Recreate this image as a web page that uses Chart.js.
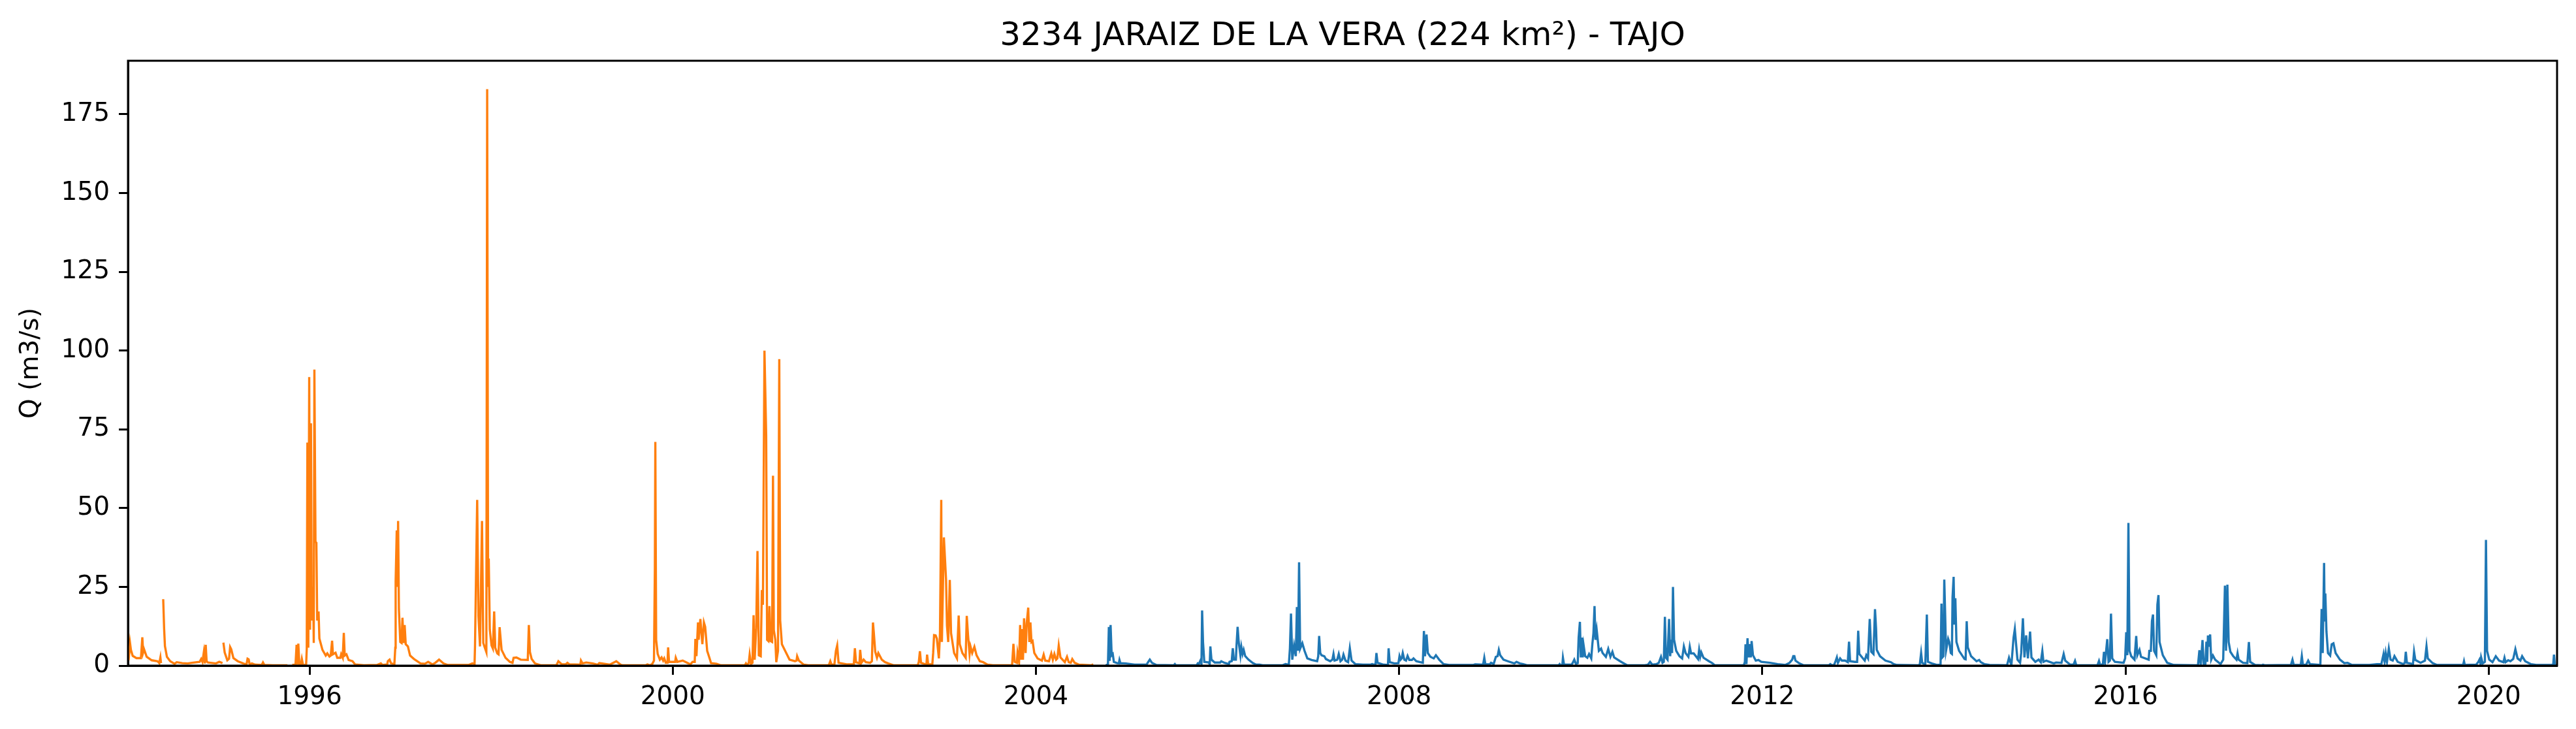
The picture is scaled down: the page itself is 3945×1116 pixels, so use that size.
<!DOCTYPE html>
<html>
<head>
<meta charset="utf-8">
<title>3234 JARAIZ DE LA VERA</title>
<script src="https://cdn.jsdelivr.net/npm/chart.js@4"></script>
<style>
  html, body { margin: 0; padding: 0; background: #fff; }
  canvas { display: block; }
</style>
</head>
<body>
<canvas id="flow-chart" width="3945" height="1116"></canvas>
<script>
const chartTitle = '3234 JARAIZ DE LA VERA (224 km²) - TAJO';
const yLabel = 'Q (m3/s)';
const yearTicks = [1996, 2000, 2004, 2008, 2012, 2016, 2020];
const qTicks = [0, 25, 50, 75, 100, 125, 150, 175];

// [decimal year, Q], null = hole in the record
const orangeFlow = [
  [1994.007,1.7],[1994.023,7.1],[1994.033,4.9],[1994.052,3.1],[1994.093,2.4],[1994.143,2.4],[1994.158,9],[1994.167,4.2],[1994.177,5.2],[1994.206,2.8],[1994.261,1.7],[1994.326,1.4],[1994.345,0.8],[1994.357,2.6],[1994.364,0.8],[1994.376,null],
  [1994.388,21.1],[1994.398,11.8],[1994.407,6.2],[1994.429,2.8],[1994.465,1.4],[1994.513,0.6],[1994.537,1.1],[1994.597,0.8],[1994.657,0.7],[1994.705,0.9],[1994.789,1.2],[1994.806,2.1],[1994.82,1.2],[1994.835,4.2],[1994.847,0.7],[1994.856,6.6],[1994.866,1.4],[1994.88,1],[1994.969,0.7],[1995.005,1.2],[1995.041,0.8],[1995.046,null],
  [1995.051,7.3],[1995.065,4.2],[1995.094,1.7],[1995.113,2.2],[1995.125,5.9],[1995.137,5.2],[1995.161,2.4],[1995.209,1.4],[1995.269,0.7],[1995.305,0.35],[1995.317,2.2],[1995.329,2],[1995.341,0.3],[1995.365,0.7],[1995.401,0.3],[1995.473,0.2],[1995.487,1],[1995.502,0.2],[1995.593,0.1],[1995.756,0.1],[1995.78,null],
  [1995.809,0.2],[1995.845,0.3],[1995.857,6.6],[1995.864,0.3],[1995.876,7],[1995.888,0.3],[1995.905,0.3],[1995.915,2.1],[1995.929,0.1],[1995.962,0.3],
  [1995.969,5.4],[1995.976,70.8],[1995.986,5.7],[1995.996,91.6],[1996.005,11.4],[1996.015,76.9],[1996.024,14.3],[1996.039,25],[1996.046,7.2],[1996.053,94],[1996.065,39.3],[1996.075,39],[1996.084,14.3],[1996.099,17.2],[1996.108,8.6],[1996.142,5],[1996.178,3.2],[1996.195,3.9],[1996.219,2.9],[1996.233,3.2],[1996.248,7.9],[1996.257,3.6],[1996.286,4.1],[1996.305,2.5],[1996.339,2.5],[1996.348,3.6],[1996.365,2.5],[1996.377,10.4],[1996.387,3.2],[1996.406,3.6],[1996.43,1.8],[1996.473,1.4],[1996.502,0.35],[1996.598,0.1],[1996.742,0.2],[1996.785,0.7],[1996.802,0.2],[1996.855,0.35],[1996.862,1.4],[1996.881,1.9],[1996.898,0.7],[1996.934,0.5],
  [1996.944,5.7],[1996.948,26.8],[1996.96,42.9],[1996.968,25],[1996.975,45.9],[1996.984,17.9],[1996.999,7.5],[1997.013,7.2],[1997.023,15.2],[1997.035,7.2],[1997.047,12.9],[1997.059,6.8],[1997.083,6.1],[1997.107,3.2],[1997.15,2.1],[1997.222,0.7],[1997.27,0.6],[1997.306,1.2],[1997.354,0.35],[1997.385,0.9],[1997.426,1.9],[1997.474,0.7],[1997.522,0.2],[1997.75,0.2],[1997.793,0.7],[1997.817,0.5],
  [1997.822,6.1],[1997.834,30],[1997.846,52.6],[1997.86,15.7],[1997.877,6.1],[1997.899,45.9],[1997.913,7.2],[1997.93,5.7],[1997.947,4.3],[1997.956,183],[1997.966,25],[1997.973,34],[1997.985,11.4],[1998.004,6.4],[1998.019,5.4],[1998.033,17.2],[1998.045,5.7],[1998.067,3.9],[1998.081,3.6],[1998.093,12.2],[1998.115,5],[1998.158,2.5],[1998.206,1.2],[1998.235,0.9],[1998.247,2.5],[1998.278,2.6],[1998.326,1.9],[1998.403,1.8],[1998.415,12.9],[1998.427,4.3],[1998.446,2.1],[1998.482,0.7],[1998.55,0.1],
  [1998.718,0.1],[1998.74,1.4],[1998.778,0.4],[1998.821,0.4],[1998.84,0.9],[1998.862,0.4],[1998.982,0.3],[1998.989,1.6],[1999.006,0.7],[1999.047,1],[1999.119,0.7],[1999.174,0.3],[1999.191,0.8],[1999.306,0.3],[1999.378,1.4],[1999.426,0.3],[1999.45,0.1],[1999.702,0.1],[1999.721,0.4],[1999.75,0.1],[1999.774,0.5],[1999.793,1.6],[1999.803,31],[1999.808,71],[1999.817,8.2],[1999.834,3.7],[1999.858,1.9],[1999.877,2.6],[1999.894,1.6],[1999.906,2.3],[1999.923,0.9],[1999.942,0.9],[1999.949,5.8],[1999.959,1.2],[2000.026,1.2],[2000.033,2.5],[2000.05,1.2],[2000.11,1.6],[2000.194,0.4],[2000.218,1.2],[2000.242,1.2],
  [2000.249,8.5],[2000.261,3],[2000.278,13.7],[2000.285,8.2],[2000.304,14.8],[2000.326,6.8],[2000.343,13.7],[2000.357,12.3],[2000.379,4.7],[2000.398,3],[2000.422,0.8],[2000.482,0.6],[2000.53,0.1],[2000.794,0.1],[2000.806,0.7],[2000.818,0.1],[2000.837,0.9],[2000.847,3.5],[2000.861,0.5],[2000.878,0.9],[2000.89,16],[2000.902,1.9],[2000.919,12],[2000.933,36.4],[2000.948,3.3],[2000.969,3],[2000.981,24],[2000.993,19.3],[2001.01,100],[2001.029,73],[2001.039,8.2],[2001.053,7.8],[2001.065,18.9],[2001.077,7.8],[2001.094,7.5],[2001.104,60.3],[2001.113,11.3],[2001.13,8.2],[2001.14,1.1],[2001.159,4.7],[2001.173,97.3],[2001.183,14.4],[2001.202,6.8],[2001.25,4],[2001.286,1.9],[2001.346,1.4],[2001.363,1.6],[2001.37,3],[2001.389,1.6],[2001.442,0.3],[2001.49,0.1],
  [2001.718,0.1],[2001.735,1.4],[2001.749,0.3],[2001.78,0.3],[2001.797,4.7],[2001.811,6.4],[2001.826,0.9],[2001.922,0.4],[2001.994,0.4],[2002.006,5.5],[2002.018,1.1],[2002.056,0.7],[2002.064,5],[2002.078,0.9],[2002.102,1.9],[2002.126,1.1],[2002.174,0.9],[2002.193,1.4],[2002.205,13.7],[2002.215,10.2],[2002.23,4.4],[2002.249,2.5],[2002.264,4],[2002.302,1.9],[2002.338,1.1],[2002.374,0.7],[2002.434,0.1],
  [2002.698,0.1],[2002.71,1.2],[2002.722,4.6],[2002.734,0.9],[2002.794,0.3],[2002.801,3.5],[2002.813,0.4],[2002.859,0.5],[2002.868,4],[2002.878,9.7],[2002.895,9.6],[2002.909,8.5],[2002.931,2.3],[2002.943,10.3],[2002.957,52.6],[2002.964,7.5],[2002.986,40.7],[2003.01,27.2],[2003.02,12.7],[2003.034,7.5],[2003.051,27.2],[2003.065,10.3],[2003.099,4],[2003.13,2.3],[2003.149,15.9],[2003.161,6.8],[2003.19,4],[2003.226,2.5],[2003.238,15.8],[2003.252,9.6],[2003.269,3.7],[2003.279,6.1],[2003.298,4],[2003.322,6],[2003.346,3.3],[2003.382,1.4],[2003.418,1.1],[2003.466,0.3],[2003.526,0.1],
  [2003.737,0.1],[2003.752,6.9],[2003.766,1.2],[2003.79,0.9],[2003.797,4],[2003.814,1.2],[2003.826,12.9],[2003.838,1.9],[2003.85,11.6],[2003.857,1.9],[2003.869,15],[2003.886,4],[2003.898,13.4],[2003.915,18.4],[2003.927,7.5],[2003.939,13.7],[2003.951,7.5],[2003.963,7.8],[2003.982,4],[2004.018,2.3],[2004.066,1.6],[2004.085,3.5],[2004.102,1.6],[2004.143,1.4],[2004.169,3.9],[2004.186,1.9],[2004.203,3.7],[2004.222,1.9],[2004.236,2.3],[2004.251,6.4],[2004.27,2.6],[2004.318,1.1],[2004.342,2.8],[2004.361,1.1],[2004.383,0.9],[2004.4,2.1],[2004.426,0.9],[2004.474,0.3],[2004.606,0.1],[2004.632,0.4]
];

const blueFlow = [
  [2004.769,0.1],[2004.793,0.4],[2004.803,12.3],[2004.812,1.5],[2004.822,12.9],[2004.834,3.3],[2004.846,3.7],[2004.858,1.2],[2004.894,0.8],[2004.913,0.7],[2004.92,1.8],[2004.93,0.8],[2004.99,0.7],[2005.086,0.3],[2005.146,0.3],[2005.218,0.3],[2005.235,1.1],[2005.254,1.9],[2005.278,0.9],[2005.326,0.2],[2005.518,0.1],[2005.53,0.5],[2005.542,0.1],
  [2005.77,0.1],[2005.782,0.7],[2005.794,0.5],[2005.811,1.6],[2005.823,0.5],[2005.83,17.5],[2005.84,7.5],[2005.854,1.2],[2005.902,1],[2005.914,0.5],[2005.921,6.1],[2005.933,1.9],[2005.969,1],[2006.029,1],[2006.041,1.4],[2006.077,0.9],[2006.125,0.5],[2006.132,1.2],[2006.156,1.4],[2006.168,5.5],[2006.18,1.9],[2006.202,1.9],[2006.209,6.4],[2006.221,12.3],[2006.233,7.5],[2006.252,3.3],[2006.262,6],[2006.276,3.7],[2006.288,5],[2006.305,3],[2006.341,1.9],[2006.389,0.8],[2006.425,0.3],[2006.461,0.3],[2006.497,0.1],
  [2006.713,0.1],[2006.749,0.5],[2006.785,0.3],[2006.797,5.4],[2006.809,16.5],[2006.823,1.9],[2006.843,6.4],[2006.862,3],[2006.874,18.6],[2006.886,4.7],[2006.898,32.8],[2006.91,5.4],[2006.934,7.1],[2006.958,4.7],[2006.989,2.3],[2007.037,1.8],[2007.097,1.4],[2007.109,3],[2007.119,9.4],[2007.131,4],[2007.145,3.3],[2007.176,3],[2007.193,2.1],[2007.241,1.4],[2007.265,1.9],[2007.277,3.7],[2007.289,1.6],[2007.318,1.9],[2007.335,3.7],[2007.354,1.4],[2007.373,1.9],[2007.387,3.5],[2007.409,1.6],[2007.438,1.1],[2007.457,5.5],[2007.476,1.6],[2007.517,0.5],[2007.601,0.3],[2007.685,0.3],[2007.702,0.5],[2007.721,0.3],[2007.74,0.5],[2007.75,4],[2007.762,0.9],[2007.829,0.3],[2007.877,0.2],[2007.884,5.5],[2007.896,1.1],[2007.949,0.7],[2007.992,0.8],[2008.004,3],[2008.016,1.9],[2008.028,2.3],[2008.04,4],[2008.057,1.9],[2008.076,1.6],[2008.093,3.1],[2008.112,1.8],[2008.141,1.8],[2008.158,2.3],[2008.189,1.4],[2008.261,0.9],[2008.273,11],[2008.285,3],[2008.302,9.9],[2008.316,4],[2008.345,2.8],[2008.381,2.3],[2008.405,3.3],[2008.441,1.9],[2008.489,0.5],[2008.549,0.2],
  [2008.813,0.2],[2008.837,0.4],[2008.909,0.3],[2008.926,0.5],[2008.938,2.5],[2008.95,0.4],[2008.998,0.4],[2009.012,0.9],[2009.041,0.5],[2009.065,2.8],[2009.084,3],[2009.098,5],[2009.113,3.3],[2009.149,1.9],[2009.197,1.4],[2009.269,0.7],[2009.293,1.2],[2009.329,0.7],[2009.365,0.5],[2009.413,0.1],
  [2009.708,0.1],[2009.756,0.1],[2009.768,0.5],[2009.78,0.1],[2009.797,0.1],[2009.804,2.5],[2009.816,0.3],[2009.9,0.3],[2009.912,0.9],[2009.929,1.9],[2009.948,0.5],[2009.967,0.8],[2009.977,8.9],[2009.991,13.9],[2010.001,2.6],[2010.013,8.9],[2010.022,2.6],[2010.032,6.4],[2010.049,3],[2010.073,2.5],[2010.092,3.7],[2010.116,2.3],[2010.128,6.8],[2010.14,10.3],[2010.152,18.9],[2010.162,8.2],[2010.176,11.3],[2010.2,4.7],[2010.224,5.4],[2010.241,4],[2010.277,2.8],[2010.303,5.3],[2010.327,2.8],[2010.349,4.4],[2010.368,2.6],[2010.428,1.5],[2010.464,0.9],[2010.512,0.1],
  [2010.704,0.1],[2010.74,0.3],[2010.764,1.2],[2010.788,0.3],[2010.836,0.5],[2010.86,0.9],[2010.884,2.8],[2010.901,0.9],[2010.915,1.2],[2010.927,15.5],[2010.939,2.5],[2010.956,1.9],[2010.973,14.8],[2010.985,3],[2010.997,8.2],[2011.006,4],[2011.016,25],[2011.028,8.2],[2011.052,4.7],[2011.088,3],[2011.117,2.3],[2011.136,6.1],[2011.155,4],[2011.186,2.8],[2011.201,6],[2011.215,3.9],[2011.244,3.9],[2011.292,2.1],[2011.304,5],[2011.316,2.8],[2011.328,4.2],[2011.352,2.5],[2011.412,1.4],[2011.448,0.8],[2011.477,0.1],
  [2011.796,0.1],[2011.808,1.2],[2011.815,6.8],[2011.825,0.5],[2011.837,8.7],[2011.849,2.6],[2011.863,6.8],[2011.873,2.6],[2011.882,7.8],[2011.897,3.3],[2011.928,1.6],[2011.957,1.8],[2011.988,1.2],[2012.084,0.9],[2012.168,0.5],[2012.252,0.2],[2012.3,0.9],[2012.329,1.9],[2012.341,3],[2012.353,3],[2012.365,1.6],[2012.408,0.7],[2012.456,0.1],
  [2012.732,0.1],[2012.749,0.5],[2012.768,0.1],[2012.79,0.2],[2012.804,1.2],[2012.821,2.6],[2012.833,0.9],[2012.857,2.3],[2012.876,1.6],[2012.912,1.6],[2012.941,1.1],[2012.955,7.6],[2012.967,1.4],[2013.02,1.2],[2013.044,1.2],[2013.056,11.1],[2013.068,3.7],[2013.128,1.6],[2013.145,3.3],[2013.164,2.3],[2013.183,14.8],[2013.2,4.4],[2013.224,3.7],[2013.241,17.9],[2013.253,11.6],[2013.26,5],[2013.296,3],[2013.356,1.6],[2013.416,1.1],[2013.447,0.5],[2013.483,0.2],
  [2013.723,0.1],[2013.735,0.5],[2013.749,4],[2013.761,0.9],[2013.795,0.3],[2013.812,16.2],[2013.824,1.2],[2013.867,0.7],[2013.927,0.2],[2013.963,0.3],[2013.973,19.7],[2013.982,2.6],[2013.994,3],[2014.004,27.3],[2014.013,17.2],[2014.023,4.7],[2014.047,8.5],[2014.059,7.5],[2014.076,4],[2014.088,3.7],[2014.095,21.7],[2014.107,28.2],[2014.116,13],[2014.126,21.4],[2014.138,7.5],[2014.167,4.7],[2014.227,2.1],[2014.239,2],[2014.251,14.1],[2014.263,5.8],[2014.299,3],[2014.359,1.4],[2014.388,1.8],[2014.407,1.1],[2014.443,0.5],[2014.503,0.2],
  [2014.695,0.1],[2014.717,2.5],[2014.743,0.1],[2014.767,8.9],[2014.781,11.6],[2014.793,7.5],[2014.81,1.9],[2014.839,0.9],[2014.851,4],[2014.87,15],[2014.887,2.6],[2014.906,9.6],[2014.925,2.3],[2014.949,10.8],[2014.964,2.6],[2015.007,1.2],[2015.043,1.9],[2015.067,1.1],[2015.084,4.6],[2015.096,1.2],[2015.127,1.6],[2015.211,0.7],[2015.235,1],[2015.295,0.9],[2015.319,3.7],[2015.336,1.6],[2015.391,0.3],[2015.427,0.3],[2015.444,1.5],[2015.458,0.1],
  [2015.691,0.1],[2015.708,1.5],[2015.722,0.1],[2015.751,0.5],[2015.763,4.4],[2015.775,1.2],[2015.799,8.4],[2015.813,1.2],[2015.828,1.6],[2015.84,16.5],[2015.854,2.3],[2015.883,1.2],[2015.979,0.9],[2015.996,2.3],[2016.008,10.6],[2016.02,3.3],[2016.032,45.3],[2016.044,4.7],[2016.063,3],[2016.099,1.9],[2016.118,9.4],[2016.13,3.3],[2016.154,5],[2016.171,2.8],[2016.255,1.9],[2016.262,4.7],[2016.279,4.7],[2016.291,14.1],[2016.303,16.2],[2016.315,4.7],[2016.339,3.3],[2016.351,19.3],[2016.363,22.4],[2016.375,7.5],[2016.411,3.3],[2016.459,0.9],[2016.531,0.2],
  [2016.783,0.1],[2016.798,0.1],[2016.814,4.9],[2016.829,0.1],[2016.848,8.1],[2016.862,0.1],[2016.88,0.5],[2016.891,7.6],[2016.9,1.2],[2016.908,9.6],[2016.92,6],[2016.932,9.9],[2016.944,1.9],[2016.963,3.2],[2016.987,1.9],[2017.047,0.5],[2017.076,1.9],[2017.095,25.4],[2017.107,4.7],[2017.122,25.7],[2017.136,7.5],[2017.155,4.4],[2017.186,3],[2017.222,1.9],[2017.234,3.9],[2017.246,1.9],[2017.294,0.9],[2017.342,0.8],[2017.359,7.5],[2017.373,1.2],[2017.426,0.2],[2017.498,0.1],[2017.515,0.3],[2017.534,0.1],
  [2017.822,0.2],[2017.839,1.9],[2017.853,0.2],[2017.93,0.2],[2017.942,3],[2017.954,0.2],[2017.99,0.3],[2018.012,1.6],[2018.031,0.5],[2018.146,0.2],[2018.16,18],[2018.172,4],[2018.187,32.6],[2018.194,14],[2018.201,22.9],[2018.213,10.9],[2018.23,4],[2018.254,3.2],[2018.271,6.8],[2018.29,7.1],[2018.314,4],[2018.362,1.9],[2018.41,0.8],[2018.446,0.9],[2018.494,0.2],
  [2018.686,0.2],[2018.77,0.5],[2018.818,0.5],[2018.842,3.7],[2018.854,1.2],[2018.866,3.9],[2018.88,1.2],[2018.9,5.4],[2018.919,1.9],[2018.943,1.6],[2018.962,3],[2018.998,1.2],[2019.058,0.5],[2019.077,0.9],[2019.087,4.4],[2019.099,0.9],[2019.166,0.5],[2019.178,4.4],[2019.192,1.8],[2019.25,0.9],[2019.298,1.6],[2019.315,6.1],[2019.329,2.3],[2019.382,0.8],[2019.43,0.2],
  [2019.646,0.2],[2019.718,0.2],[2019.728,1.4],[2019.737,0.2],[2019.862,0.3],[2019.886,1.2],[2019.898,1.9],[2019.91,0.5],[2019.917,2.6],[2019.934,0.7],[2019.958,1.2],[2019.97,39.9],[2019.982,4.7],[2020.006,1.9],[2020.042,1.1],[2020.078,3],[2020.114,1.6],[2020.162,1.1],[2020.174,2.5],[2020.186,1.1],[2020.215,1.7],[2020.239,1.4],[2020.27,2.1],[2020.294,5.2],[2020.318,2.3],[2020.349,1.6],[2020.368,3],[2020.402,1.4],[2020.462,0.5],[2020.522,0.2],[2020.702,0.2],[2020.711,0.5],[2020.719,3.5],[2020.73,0.1],[2020.753,0.1]
];

const toPoints = rows => rows.map(r => ({ x: r[0], y: r[1] }));

// matplotlib style closed frame, chart.js only gives the two axis lines
const frame = {
  id: 'frame',
  afterDraw(chart) {
    const { ctx, chartArea: a } = chart;
    ctx.save();
    ctx.strokeStyle = '#000';
    ctx.lineWidth = 3;
    ctx.strokeRect(a.left, a.top, a.right - a.left, a.bottom - a.top);
    ctx.restore();
  }
};

Chart.defaults.font.family = '"DejaVu Sans"';
Chart.defaults.color = '#000';

new Chart(document.getElementById('flow-chart'), {
  type: 'line',
  data: {
    datasets: [
      { data: toPoints(orangeFlow), borderColor: '#ff7f0e', borderWidth: 3.4, pointRadius: 0, tension: 0, spanGaps: false },
      { data: toPoints(blueFlow), borderColor: '#1f77b4', borderWidth: 3.4, pointRadius: 0, tension: 0, spanGaps: false }
    ]
  },
  plugins: [frame],
  options: {
    responsive: false,
    animation: false,
    layout: { padding: { top: 0, right: 29, bottom: 0, left: 0 } },
    plugins: {
      legend: { display: false },
      tooltip: { enabled: false },
      title: {
        display: true,
        text: chartTitle,
        fullSize: false,
        color: '#000',
        font: { size: 50, weight: 'normal', lineHeight: 1.2 },
        padding: { top: 26, bottom: 7 }
      }
    },
    scales: {
      x: {
        type: 'linear',
        min: 1994,
        max: 2020.753,
        afterBuildTicks: axis => { axis.ticks = yearTicks.map(v => ({ value: v })); },
        afterFit: axis => { axis.height = 97; },
        grid: { display: true, drawOnChartArea: false, drawTicks: true, tickLength: 14, tickWidth: 3, tickColor: '#000' },
        border: { display: true, color: '#000', width: 3 },
        ticks: { font: { size: 39 }, padding: 11, maxRotation: 0, autoSkip: false, callback: v => String(v) }
      },
      y: {
        type: 'linear',
        min: 0,
        max: 192,
        afterBuildTicks: axis => { axis.ticks = qTicks.map(v => ({ value: v })); },
        afterFit: axis => { axis.width = 196; },
        title: { display: true, text: yLabel, font: { size: 39, lineHeight: 1.2 }, padding: { top: 24, bottom: 0 } },
        grid: { display: true, drawOnChartArea: false, drawTicks: true, tickLength: 14, tickWidth: 3, tickColor: '#000' },
        border: { display: true, color: '#000', width: 3 },
        ticks: { font: { size: 39 }, padding: 14, autoSkip: false, callback: v => String(v) }
      }
    }
  }
});
</script>
</body>
</html>
